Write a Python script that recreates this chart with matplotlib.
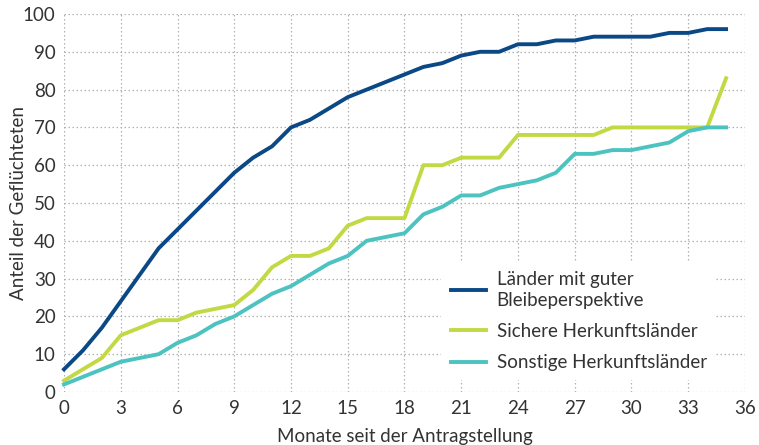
import matplotlib
matplotlib.use("Agg")
import matplotlib.pyplot as plt

months = list(range(36))
guter = [6, 11, 17, 24, 31, 38, 43, 48, 53, 58, 62, 65, 70, 72, 75, 78, 80, 82, 84, 86,
         87, 89, 90, 90, 92, 92, 93, 93, 94, 94, 94, 94, 95, 95, 96, 96]
sichere = [3, 6, 9, 15, 17, 19, 19, 21, 22, 23, 27, 33, 36, 36, 38, 44, 46, 46, 46, 60,
           60, 62, 62, 62, 68, 68, 68, 68, 68, 70, 70, 70, 70, 70, 70, 83]
sonstige = [2, 4, 6, 8, 9, 10, 13, 15, 18, 20, 23, 26, 28, 31, 34, 36, 40, 41, 42, 47,
            49, 52, 52, 54, 55, 56, 58, 63, 63, 64, 64, 65, 66, 69, 70, 70]
labels = ["Länder mit guter\nBleibeperspektive", "Sichere Herkunftsländer", "Sonstige Herkunftsländer"]
colors = ["#0b4886", "#c3d943", "#4cc3c0"]
xticks = list(range(0, 37, 3))
yticks = list(range(0, 101, 10))

plt.rcParams['font.family'] = ['Lato', 'DejaVu Sans']
text_color = "#333333"

fig = plt.figure(figsize=(7.59, 4.45), dpi=100)
ax = fig.add_axes([64/759, 1-392/445, 681/759, 378/445])

for y, lab, c in zip([guter, sichere, sonstige], labels, colors):
    ax.plot(months, y, color=c, lw=2.8, label=lab, clip_on=False, solid_joinstyle='round', zorder=3)

ax.set_xlim(0, 36)
ax.set_ylim(0, 100)
ax.set_xticks(xticks)
ax.set_yticks(yticks)
ax.grid(True, color="#b0b0b0", linestyle=(0, (1.2, 2)), linewidth=0.9)
for s in ax.spines.values():
    s.set_visible(False)
ax.tick_params(length=0, labelsize=13.5, colors=text_color, pad=6)
ax.set_xlabel("Monate seit der Antragstellung", fontsize=13.5, color=text_color, labelpad=8)
ax.set_ylabel("Anteil der Geflüchteten", fontsize=13.5, color=text_color)
ax.yaxis.set_label_coords((27 - 64) / 681, 0.5)

leg = ax.legend(loc="upper left", bbox_to_anchor=((432-64)/681, (392-252)/378),
                frameon=True, facecolor="white", edgecolor="none", framealpha=1,
                fontsize=13.5, handlelength=1.9, handletextpad=0.55, labelspacing=0.75,
                borderpad=0.5, labelcolor=text_color)
for t in leg.get_texts():
    t.set_linespacing(1.3)
leg.set_zorder(5)

fig.savefig("out.png", dpi=100)
